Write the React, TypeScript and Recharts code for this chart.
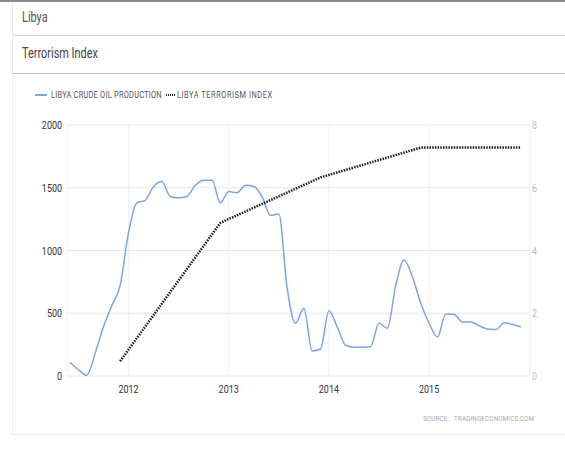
import { LineChart, Line, XAxis, YAxis, CartesianGrid } from "recharts";

// monthly series starts in June 2011
const startYear = 2011;
const startMonth = 6;

const oilProduction = [
  110, 50, 5, 180, 390, 560, 720,
  1140, 1380, 1400, 1510, 1550, 1430, 1420, 1430, 1520, 1560, 1560, 1380,
  1470, 1460, 1520, 1510, 1430, 1280, 1290, 700, 420, 540, 200, 215,
  520, 390, 245, 230, 230, 235, 420, 380, 720, 925, 790, 580,
  420, 310, 495, 490, 430, 430, 400, 375, 370, 425, 410, 390,
];

// annual index, plotted at December of each year
const terrorismYears = [2011, 2012, 2013, 2014, 2015];
const terrorismIndex = [0.47, 4.88, 6.33, 7.28, 7.28];

const yearLabels = ["2012", "2013", "2014", "2015"];
const leftTicks = [0, 500, 1000, 1500, 2000];
const rightTicks = [0, 2, 4, 6, 8];

const data = oilProduction.map((oil, i) => {
  const m = startMonth - 1 + i;
  const year = startYear + Math.floor(m / 12);
  const month = (m % 12) + 1;
  const k = terrorismYears.indexOf(year);
  return {
    t: i,
    year,
    month,
    oil,
    terror: month === 12 && k >= 0 ? terrorismIndex[k] : null,
  };
});

const yearTicks = yearLabels.map(
  (y) => data.find((d) => d.year === Number(y) && d.month === 1)!.t
);

const FONT = "Roboto, 'Noto Sans', sans-serif";
const SQUEEZE = 0.78; // the original uses a condensed face

// condensed html text
function Cond({ children, style }: { children: any; style: any }) {
  return (
    <div
      style={{
        position: "absolute",
        whiteSpace: "nowrap",
        transform: `scaleX(${SQUEEZE})`,
        transformOrigin: "left center",
        ...style,
      }}
    >
      {children}
    </div>
  );
}

// condensed svg tick
function makeTick(fill: string, dy: string, fmt?: (v: any) => string) {
  return (props: any) => {
    const { x, y, payload, textAnchor } = props;
    return (
      <g transform={`translate(${x},${y})`}>
        <text
          transform={`scale(${SQUEEZE},1)`}
          textAnchor={textAnchor}
          dy={dy}
          fontSize={11.5}
          fontFamily={FONT}
          fill={fill}
        >
          {fmt ? fmt(payload.value) : payload.value}
        </text>
      </g>
    );
  };
}

export default function App() {
  return (
    <div
      style={{
        position: "absolute",
        left: 0,
        top: 0,
        width: 565,
        height: 475,
        background: "#fff",
        fontFamily: FONT,
        overflow: "hidden",
      }}
    >
      {/* cut-off page heading */}
      <div style={{ position: "absolute", left: 0, top: 0, width: 565, height: 2, background: "#8a8a8a" }} />

      {/* header boxes */}
      <div
        style={{
          position: "absolute",
          left: 12,
          top: 3,
          width: 553,
          height: 33,
          borderBottom: "1px solid #c9d5e8",
          borderLeft: "1px solid #e4e8ee",
          boxSizing: "border-box",
        }}
      >
        <Cond style={{ left: 9, top: 6, fontSize: 14, color: "#555" }}>Libya</Cond>
      </div>
      <div
        style={{
          position: "absolute",
          left: 12,
          top: 37,
          width: 553,
          height: 37,
          borderBottom: "1px solid #a9c9dd",
          borderLeft: "1px solid #e4e8ee",
          boxSizing: "border-box",
        }}
      >
        <Cond style={{ left: 9, top: 8, fontSize: 14, color: "#444" }}>Terrorism Index</Cond>
      </div>
      <div
        style={{
          position: "absolute",
          left: 12,
          top: 74,
          width: 553,
          height: 361,
          borderLeft: "1px solid #eceef1",
          borderBottom: "1px solid #eceef1",
          boxSizing: "border-box",
        }}
      />

      {/* legend */}
      <div style={{ position: "absolute", left: 35, top: 94, width: 12, height: 2, background: "#7aa6e6" }} />
      <Cond style={{ left: 51, top: 89, fontSize: 9.5, color: "#555", letterSpacing: 0.3 }}>
        LIBYA CRUDE OIL PRODUCTION
      </Cond>
      <div
        style={{
          position: "absolute",
          left: 166,
          top: 94,
          width: 9,
          height: 2,
          backgroundImage: "repeating-linear-gradient(90deg, #222 0 1px, transparent 1px 2px)",
        }}
      />
      <Cond style={{ left: 177, top: 89, fontSize: 9.5, color: "#555", letterSpacing: 0.7 }}>
        LIBYA TERRORISM INDEX
      </Cond>

      <div style={{ position: "absolute", left: 0, top: 0 }}>
        <LineChart width={565} height={475} data={data} margin={{ top: 125, right: 0, left: 0, bottom: 69 }}>
          <CartesianGrid horizontal={false} stroke="#efefef" />
          <CartesianGrid vertical={false} stroke="#e6e6e6" />
          <XAxis
            dataKey="t"
            type="number"
            domain={[-0.36, 55.08]}
            ticks={yearTicks}
            axisLine={false}
            tickLine={false}
            tickSize={0}
            tickMargin={9}
            height={30}
            tick={makeTick("#333", "0.71em", (v) => String(data[v].year))}
          />
          <YAxis
            domain={[0, 2000]}
            ticks={leftTicks}
            axisLine={false}
            tickLine={false}
            tickSize={3}
            tickMargin={2}
            width={67}
            tick={makeTick("#333", "0.355em")}
          />
          <YAxis
            yAxisId="right"
            orientation="right"
            domain={[0, 8]}
            ticks={rightTicks}
            axisLine={false}
            tickLine={false}
            tickSize={0}
            tickMargin={2}
            width={35}
            tick={makeTick("#bbb", "0.355em")}
          />
          <Line
            type="monotone"
            dataKey="oil"
            stroke="#7aa6e6"
            strokeWidth={1.5}
            dot={false}
            isAnimationActive={false}
          />
          <Line
            yAxisId="right"
            type="linear"
            dataKey="terror"
            stroke="#1a1a1a"
            strokeWidth={2.5}
            strokeDasharray="1.5 1.2"
            dot={false}
            connectNulls
            isAnimationActive={false}
          />
        </LineChart>
      </div>

      {/* source */}
      <Cond style={{ left: 423, top: 414, fontSize: 8, color: "#aaa", letterSpacing: 0.2 }}>
        SOURCE:&nbsp;&nbsp; TRADINGECONOMICS.COM
      </Cond>
    </div>
  );
}
